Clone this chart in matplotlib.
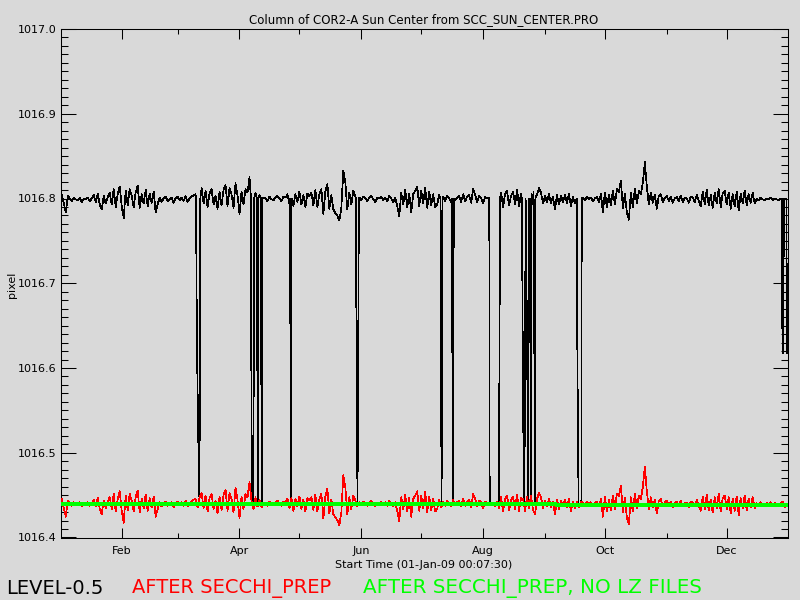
import numpy as np
import matplotlib
matplotlib.use('Agg')
import matplotlib.pyplot as plt
import matplotlib.dates as mdates
from matplotlib.ticker import MultipleLocator, FormatStrFormatter

# time axis: days since 01-Jan-09 00:07:30
start = np.datetime64('2009-01-01T00:07:30')

# day-to-day wiggle of the column, in 1/1000 pixel
wiggle = [3, 6, -5, -15,
          4, 1, -2, 2, 0, -1, 2, -3, 1, 0, 2, -2, 1,
          5, -3, 7, -6, -12,
          4, -5, 3,
          8, -6, 12, -9, 6, 15, -8,
          -22,
          10, -7, 12, 4, -9, 8, 16, -10, 6, -5, 11, -8, 7, -4, 9, -15, -6,
          2, -3, 1, 3, -2, 0, 2, -4, 1, 3, -1, 2, -2, 4, -3, 1, 3,
          5,
          6, -4, 8, 13, -5, 10, -9, 7, 12, -6, 4, -11, 9, -7, 11, 17, -8, 13, 6, -10, 19, 5, -17, 9, -6, 12, 8,
          26,
          4, -6, 8, -3, 5, -4,
          2, 1, -2, 3, 0, -1, 2, 4, 1, -2, 3, 2,
          6,
          -5, 7, -8, 6, -3, 9, -6, 5, -9, 7, 4,
          8, -7, 11, -9, 6, 12, -17, 9, 18, -11, 5,
          -12, -16, -19, -25, -10,
          34, 20,
          -12, 8, -6, 10,
          4, -3,
          2, -1, 3, 1, -2, 2, 4, 0, -3, 2, 1, 3, -1, 2, -2, 4, 1, -3, 2,
          -8, -20, 8, -6, 11, -9, 7, -15, 6, 10, 15, -8, 10, -5, 14, -10, 9, -7, 6, -9,
          -6, 5, -4,
          3, -2, 4, 1, -3, 5, -1, 2, 4, -3, 6, -2, 3, 5, -4, 12, 6, -3, 4, 2, -5, 3, 1,
          2, -1, 1, -2, 3,
          -5, 8, -9, 6, 10, -7, 4, 9, -6, 11, -8, 7,
          6, -8, 9, -5, 10, -7,
          -12, 6, 13, 8, -5, 4, -3, 6, -4, 3, -12, 5, -6, 4, -3, 5, -4, 6, -8, 3, -5,
          3, -4, 2,
          2, -1, 3, 0, 2, -2, 1, 3, -3, 6, -15, 8, -9, 5, -7, 10, -6, 12, 9, 22, -10, 7, -16, -24,
          8, -9, 12, -5, 10, 6, 20, 44, 15, -6, 8, -4, 5, -11, 4,
          6, -3, 2, 4, -2, 3, -4, 1, 3, -2, 4, -3, 2, 1, -4, 3, 2, -3, 5, -2,
          -8, 9, -6, 11, -7, 5, -10, 8, -5, 12, -9, 7, 10, -6, 8, -11, 6, -8, 9, -13, 7, -5, 10, -7, 6, -4, 8, -5,
          1, -1, 2, 0, -1, 1, 0, 2, -1, 1, 0, -1, 1, 3, -4]

level05_base = 1016.799
prep_base = 1016.4395

# drop-outs of the level-0.5 column: (day, pixel) runs
dips = [
    [(68.2, 1016.800), (68.35, 1016.741), (68.7, 1016.624), (69.45, 1016.502), (69.96, 1016.440), (70.36, 1016.800)],
    [(95.75, 1016.800), (95.9, 1016.612), (96.25, 1016.440), (97.0, 1016.440), (97.25, 1016.800)],
    [(98.75, 1016.800), (98.9, 1016.618), (99.2, 1016.440), (99.5, 1016.800)],
    [(100.75, 1016.800), (100.9, 1016.615), (101.1, 1016.440), (101.3, 1016.800)],
    [(115.3, 1016.800), (115.5, 1016.619), (115.8, 1016.440), (116.1, 1016.800)],
    [(148.3, 1016.800), (148.6, 1016.622), (149.1, 1016.440), (149.8, 1016.800)],
    [(190.7, 1016.800), (190.9, 1016.622), (191.2, 1016.440), (191.45, 1016.615), (191.6, 1016.800)],
    [(196.4, 1016.800), (196.6, 1016.615), (197.0, 1016.440), (197.3, 1016.800)],
    [(215.1, 1016.800), (215.3, 1016.440), (219.9, 1016.440), (220.2, 1016.614), (220.5, 1016.800)],
    [(231.4, 1016.800), (231.6, 1016.719), (232.1, 1016.532), (232.7, 1016.440), (233.3, 1016.800),
     (234.1, 1016.612), (234.5, 1016.440), (234.75, 1016.800), (235.25, 1016.630), (235.6, 1016.800),
     (236.0, 1016.440), (236.2, 1016.806), (236.7, 1016.793), (237.3, 1016.808), (238.0, 1016.440),
     (238.2, 1016.800)],
    [(259.0, 1016.800), (259.2, 1016.622), (259.8, 1016.440), (261.2, 1016.440), (261.4, 1016.800)],
    [(361.7, 1016.800), (361.9, 1016.618), (362.4, 1016.618), (362.6, 1016.800), (363.9, 1016.800), (364.2, 1016.618)],
]

green_days = [0, 66, 66.5, 248, 248.5, 364.7]
green_vals = [1016.4392, 1016.4392, 1016.4399, 1016.4399, 1016.4387, 1016.4387]

# build the level-0.5 curve: daily points outside the drop-outs plus the drop-out runs
days = np.arange(len(wiggle), dtype=float)
w = np.array(wiggle) / 1000.0
spans = [(run[0][0], run[-1][0]) for run in dips]
bx, by = [], []
for d, v in zip(days, w):
    if not any(a <= d <= b for a, b in spans):
        bx.append(d)
        by.append(level05_base + v)
for run in dips:
    for d, v in run:
        bx.append(d)
        by.append(v)
order = np.argsort(bx)
bx = np.array(bx)[order]
by = np.array(by)[order]

t0 = mdates.date2num(start)
bg = '#d9d9d9'

fig = plt.figure(figsize=(8, 6), dpi=100, facecolor=bg)
ax = fig.add_axes([61 / 800, 1 - 537.5 / 600, 727 / 800, 508.5 / 600])
ax.set_facecolor(bg)

ax.plot(t0 + bx, by, color='black', lw=0.5, antialiased=False, zorder=2)
ax.plot(t0 + days, prep_base + w, color='#ff0000', lw=0.5, antialiased=False, zorder=3)
ax.plot(t0 + np.array(green_days), green_vals, color='#00ff00', lw=2.0, antialiased=False, zorder=4)

ax.set_xlim(t0 + 0.6, t0 + 364.7)
ax.set_ylim(1016.4, 1017.0)

ax.xaxis.set_major_locator(mdates.MonthLocator(bymonth=[2, 4, 6, 8, 10, 12]))
ax.xaxis.set_minor_locator(mdates.MonthLocator(bymonth=[1, 3, 5, 7, 9, 11]))
ax.xaxis.set_major_formatter(mdates.DateFormatter('%b'))
ax.yaxis.set_major_locator(MultipleLocator(0.1))
ax.yaxis.set_minor_locator(MultipleLocator(0.01))
ax.yaxis.set_major_formatter(FormatStrFormatter('%.1f'))

ax.tick_params(which='both', direction='in', top=True, right=True, width=0.75, labelsize=8)
ax.tick_params(axis='x', which='major', length=7.2, pad=6)
ax.tick_params(axis='x', which='minor', length=3.6)
ax.tick_params(axis='y', which='major', length=10.8, pad=3)
ax.tick_params(axis='y', which='minor', length=5)
for s in ax.spines.values():
    s.set_linewidth(0.75)

fig.text(424 / 800, 1 - 20 / 600, 'Column of COR2-A Sun Center from SCC_SUN_CENTER.PRO',
         ha='center', va='center', fontsize=8.5)
fig.text(424 / 800, 1 - 565 / 600, 'Start Time (01-Jan-09 00:07:30)',
         ha='center', va='center', fontsize=8)
fig.text(12 / 800, 1 - 285 / 600, 'pixel', rotation=90, ha='center', va='center', fontsize=8)

fig.text(6 / 800, 1 - 588 / 600, 'LEVEL-0.5', color='black', ha='left', va='center', fontsize=14)
fig.text(132 / 800, 1 - 588 / 600, 'AFTER SECCHI_PREP', color='#ff0000', ha='left', va='center',
         fontsize=14)
fig.text(363 / 800, 1 - 588 / 600, 'AFTER SECCHI_PREP, NO LZ FILES', color='#00ff00', ha='left',
         va='center', fontsize=14.3)

fig.savefig('out.png', dpi=100, facecolor=bg)
